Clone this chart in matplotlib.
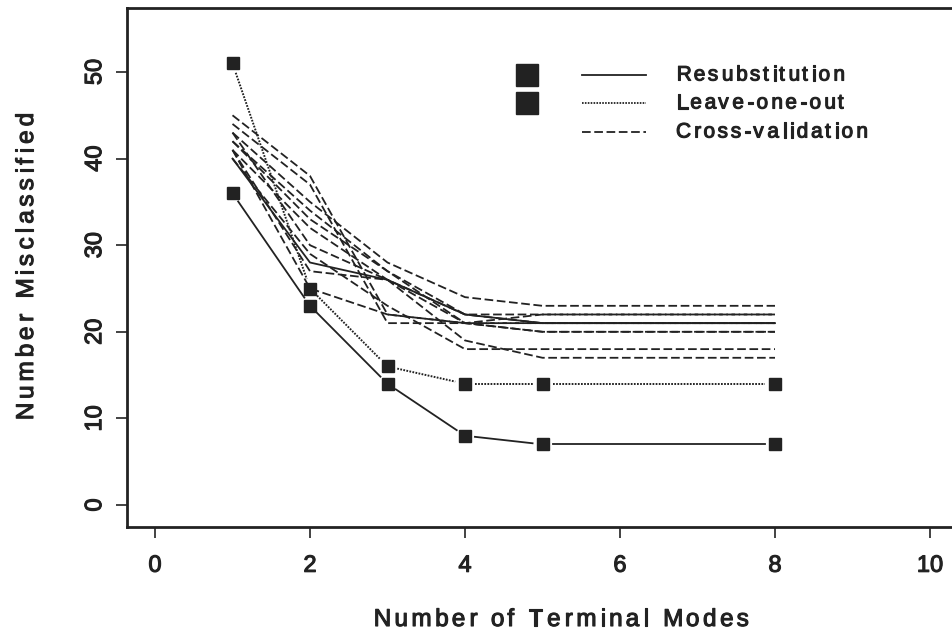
####################################################################################
## include library
import matplotlib
matplotlib.use("Agg")
import matplotlib.pyplot as plt
from matplotlib import patheffects
from matplotlib.font_manager import FontProperties, findfont, get_font
import numpy as np

FONT = 'Liberation Sans'
plt.rcParams['font.family'] = [FONT, 'DejaVu Sans']

####################################################################################
## data

nodes = [1, 2, 3, 4, 5, 8]

resub = [36, 23, 14, 8, 7, 7]
leave_one_out = [51, 25, 16, 14, 14, 14]

# cross-validation runs (dashed)
cv_runs = [
    [45, 38, 22, 21, 21, 21],
    [44, 37, 21, 21, 22, 22],
    [43, 35, 28, 24, 23, 23],
    [42, 34, 27, 22, 22, 22],
    [42, 33, 27, 21, 20, 20],
    [41, 32, 26, 22, 21, 21],
    [41, 25, 22, 21, 21, 21],
    [40, 29, 23, 18, 18, 18],
    [43, 30, 26, 19, 17, 17],
    [41, 27, 26, 21, 20, 20],
]
# one run drawn solid
cv_solid = [40, 28, 26, 22, 21, 21]

legend_labels = ["Resubstitution", "Leave-one-out", "Cross-validation"]
x_label = "Number of Terminal Modes"
y_label = "Number Misclassified"

ink = "#222222"
W, H = 952, 637
bold_fx = [patheffects.withStroke(linewidth=0.8, foreground=ink)]

####################################################################################
## helpers

def gapped_line(ax, xs, ys, gap_px, **kw):
    # R type="b": segments stop short of the points
    pts = ax.transData.transform(np.column_stack([xs, ys]))
    inv = ax.transData.inverted()
    for p0, p1 in zip(pts[:-1], pts[1:]):
        d = p1 - p0
        n = np.hypot(*d)
        if n <= 2 * gap_px:
            continue
        u = d / n
        a = inv.transform(p0 + u * gap_px)
        b = inv.transform(p1 - u * gap_px)
        ax.plot([a[0], b[0]], [a[1], b[1]], **kw)


def spaced_text(fig, x_px, y_px, s, size, track, rotation=0, ha='center'):
    # letter-spaced text; (x_px, y_px) is the baseline anchor in pixels from top-left
    font = get_font(findfont(FontProperties(family=FONT)))
    font.set_size(size, 100)
    advs, lsbs = [], []
    for c in s:
        g = font.load_char(ord(c))
        advs.append(g.linearHoriAdvance / 65536)
        lsbs.append(g.horiBearingX / 64)
    total = sum(advs) + track * (len(s) - 1)
    pos = -total / 2 if ha == 'center' else 0.0
    for c, adv, lsb in zip(s, advs, lsbs):
        if c != ' ':
            off = pos + lsb
            if rotation == 90:
                px, py = x_px, y_px - off
            else:
                px, py = x_px + off, y_px
            fig.text(px / W, 1 - py / H, c, fontsize=size, color=ink,
                     rotation=rotation, rotation_mode='anchor',
                     ha='left', va='baseline', path_effects=bold_fx)
        pos += adv + track

####################################################################################
## plotting

fig = plt.figure(figsize=(W / 100, H / 100), dpi=100)

# pixel calibration of the original axes
px_per_x, x_zero = 77.5, 155
px_per_y, y_zero = 8.66, 505
left_px, bottom_px, top_px = 127, 527, 8
x0 = (left_px - x_zero) / px_per_x
x1 = 10.6
y0 = (y_zero - bottom_px) / px_per_y
y1 = (y_zero - top_px) / px_per_y
right_px = x_zero + px_per_x * x1
ax = fig.add_axes([left_px / W, 1 - bottom_px / H,
                   (right_px - left_px) / W, (bottom_px - top_px) / H])
ax.set_xlim(x0, x1)
ax.set_ylim(y0, y1)

for s in ax.spines.values():
    s.set_linewidth(2.0)
    s.set_color(ink)

ax.set_xticks([0, 2, 4, 6, 8, 10])
ax.set_yticks([0, 10, 20, 30, 40, 50])
ax.tick_params(axis='both', direction='out', length=8, width=1.2,
               colors=ink, labelsize=17)
ax.tick_params(axis='x', pad=12)
ax.tick_params(axis='y', pad=7)
for lab in ax.get_yticklabels():
    lab.set_rotation(90)
    lab.set_va('center')
for lab in ax.get_xticklabels() + ax.get_yticklabels():
    lab.set_path_effects(bold_fx)

# axis titles, letter-spaced like the original
spaced_text(fig, 560, 626, x_label, 17.5, 3.6)
spaced_text(fig, 33, 268, y_label, 17.5, 4.1, rotation=90)

# cross-validation curves
for run in cv_runs:
    ax.plot(nodes, run, color=ink, lw=1.3, dashes=(4.8, 2.0))
ax.plot(nodes, cv_solid, color=ink, lw=1.3)

# resubstitution and leave-one-out, with gaps at the points
gapped_line(ax, nodes, resub, 10, color=ink, lw=1.3)
gapped_line(ax, nodes, leave_one_out, 10, color=ink, lw=1.4, dashes=(0.9, 0.7))
ax.plot(nodes, resub, 's', color=ink, ms=9, mec=ink, ls='none')
ax.plot(nodes, leave_one_out, 's', color=ink, ms=9, mec=ink, ls='none')

# legend drawn by hand, in figure pixels
def fx(px):
    return px / W

def fy(py):
    return 1 - py / H

rows = [75, 103, 132]
styles = [dict(), dict(dashes=(0.9, 0.7)), dict(dashes=(4.8, 2.0))]
for i, (py, lab, st) in enumerate(zip(rows, legend_labels, styles)):
    if i < 2:
        fig.lines.append(plt.Line2D([fx(527)], [fy(py)], marker='s', ms=16,
                                    color=ink, ls='none',
                                    transform=fig.transFigure))
    fig.lines.append(plt.Line2D([fx(582), fx(646)], [fy(py), fy(py)],
                                color=ink, lw=1.3, transform=fig.transFigure, **st))
    spaced_text(fig, 675, py + 5.5, lab, 15, 2.8, ha='left')

plt.savefig("out.png", dpi=100)
